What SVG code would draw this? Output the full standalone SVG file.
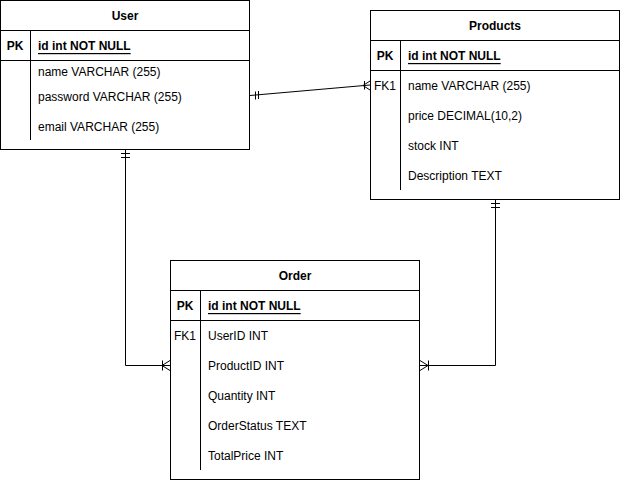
<svg xmlns="http://www.w3.org/2000/svg" width="621" height="481" viewBox="0 0 621 481">
<style>
text{font-family:"Liberation Sans",Arial,sans-serif;font-size:12px;fill:#000;dominant-baseline:central}
.t{font-weight:bold;text-anchor:middle}
.k{font-weight:bold;text-anchor:middle}
.fk{text-anchor:middle}
.id{font-weight:bold;text-decoration:underline}
.box{fill:#fff;stroke:#000;stroke-width:1}
.ln{fill:none;stroke:#000;stroke-width:1}
</style>
<rect width="621" height="481" fill="#fff"/>
<g id="user">
<rect class="box" x="0.5" y="0.5" width="249" height="149"/>
<path class="ln" d="M0.5 30.5H249.5M0.5 60.5H249.5M30.5 30.5V140"/>
<text class="t" x="125" y="16">User</text>
<text class="k" x="15" y="46">PK</text>
<text class="id" x="38" y="46">id int NOT NULL</text>
<text x="38" y="72">name VARCHAR (255)</text>
<text x="38" y="97">password VARCHAR (255)</text>
<text x="38" y="127">email VARCHAR (255)</text>
</g>
<g id="products">
<rect class="box" x="370.5" y="10.5" width="249" height="189"/>
<path class="ln" d="M370.5 40.5H619.5M370.5 70.5H619.5M400.5 40.5V190"/>
<text class="t" x="495" y="26">Products</text>
<text class="k" x="385" y="56">PK</text>
<text class="id" x="408" y="56">id int NOT NULL</text>
<text class="fk" x="385" y="86">FK1</text>
<text x="408" y="86">name VARCHAR (255)</text>
<text x="408" y="116">price DECIMAL(10,2)</text>
<text x="408" y="146">stock INT</text>
<text x="408" y="176">Description TEXT</text>
</g>
<g id="order">
<rect class="box" x="170.5" y="260.5" width="249" height="219"/>
<path class="ln" d="M170.5 290.5H419.5M170.5 320.5H419.5M200.5 290.5V470"/>
<text class="t" x="295" y="276">Order</text>
<text class="k" x="185" y="306">PK</text>
<text class="id" x="208" y="306">id int NOT NULL</text>
<text class="fk" x="185" y="336">FK1</text>
<text x="208" y="336">UserID INT</text>
<text x="208" y="366">ProductID INT</text>
<text x="208" y="396">Quantity INT</text>
<text x="208" y="426">OrderStatus TEXT</text>
<text x="208" y="456">TotalPrice INT</text>
</g>
<g id="connectors">
<path class="ln" d="M250 95.5L370 85"/>
<path class="ln" d="M255.5 91.5V99.5M258.5 91V99"/>
<path class="ln" d="M364.5 81V89.5M363 85.5L370 81M363 85.5L370 90"/>
<path class="ln" d="M125.5 150V365.5H170"/>
<path class="ln" d="M121 153.5H130M121 157.5H130"/>
<path class="ln" d="M162.5 360.5V370.5M162 365.5L170 360.5M162 365.5L170 370.5"/>
<path class="ln" d="M495.5 200V365.5H420"/>
<path class="ln" d="M491 203.5H500M491 207.5H500"/>
<path class="ln" d="M428.5 360.5V370.5M428 365.5L420 360.5M428 365.5L420 370.5"/>
</g>
</svg>
